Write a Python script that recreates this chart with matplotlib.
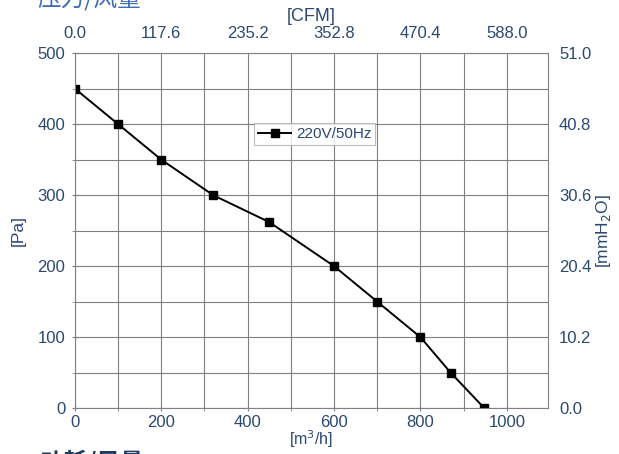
import matplotlib
matplotlib.use('Agg')
import matplotlib.pyplot as plt
import numpy as np

# fan curve, 220V/50Hz
flow = [0, 100, 200, 320, 450, 600, 700, 800, 870, 948]        # m3/h
pressure = [450, 400, 350, 300, 262, 200, 150, 100, 50, 0]     # Pa

flow_ticks = [0, 200, 400, 600, 800, 1000]
cfm_labels = ['0.0', '117.6', '235.2', '352.8', '470.4', '588.0']
pa_ticks = [0, 100, 200, 300, 400, 500]
mmh2o_labels = ['0.0', '10.2', '20.4', '30.6', '40.8', '51.0']

TXT = '#2c4770'
GRID = '#808080'

plt.rcParams['font.family'] = ['Liberation Sans', 'DejaVu Sans']

fig = plt.figure(figsize=(6.19, 4.54), dpi=100)
ax = fig.add_axes([0.121, 0.101, 0.764, 0.782])

ax.plot(flow, pressure, color='k', lw=1.4, marker='s', ms=6,
        label='220V/50Hz')

ax.set_xlim(0, 1095)
ax.set_ylim(0, 500)
ax.set_xticks(flow_ticks)
ax.set_xticks(np.arange(0, 1095, 100), minor=True)
ax.set_yticks(pa_ticks)
ax.set_yticks(np.arange(0, 501, 50), minor=True)
ax.grid(True, which='both', color=GRID, lw=0.8)
ax.set_axisbelow(True)
for s in ax.spines.values():
    s.set_color(GRID)
ax.tick_params(which='both', colors=GRID, labelcolor=TXT, labelsize=12,
               length=4, direction='inout')
ax.tick_params(axis='x', pad=3)
ax.tick_params(axis='y', pad=5)
for lab in ax.get_yticklabels():
    lab.set_verticalalignment('center_baseline')

# top axis: CFM
ax_top = ax.twiny()
ax_top.set_xlim(ax.get_xlim())
ax_top.set_xticks(flow_ticks)
ax_top.set_xticklabels(cfm_labels)
ax_top.tick_params(colors=GRID, labelcolor=TXT, labelsize=12, length=0, pad=9)
for s in ax_top.spines.values():
    s.set_visible(False)

# right axis: mmH2O
ax_r = ax.twinx()
ax_r.set_ylim(ax.get_ylim())
ax_r.set_yticks(pa_ticks)
ax_r.set_yticklabels(mmh2o_labels)
ax_r.tick_params(colors=GRID, labelcolor=TXT, labelsize=12, length=0, pad=8)
for s in ax_r.spines.values():
    s.set_visible(False)

ax.set_xlabel('[m$^3$/h]', color=TXT, fontsize=11.5, labelpad=-1)
ax.set_ylabel('[Pa]', color=TXT, fontsize=12.5, labelpad=8)
ax_top.set_xlabel('[CFM]', color=TXT, fontsize=13, labelpad=3)
ax_r.set_ylabel('[mmH$_2$O]', color=TXT, fontsize=12.5, rotation=90,
                labelpad=2)

leg = ax.legend(loc='center', bbox_to_anchor=(555 / 1095, 386 / 500),
                fontsize=11, frameon=True, fancybox=False, handlelength=2.2,
                handletextpad=0.3, borderpad=0.25, borderaxespad=0)
leg.get_frame().set_edgecolor('#aaaaaa')
leg.get_frame().set_linewidth(0.8)
for t in leg.get_texts():
    t.set_color(TXT)

# headings cut by the image edge
cjk = ['Noto Sans CJK SC', 'DejaVu Sans']
fig.text(37 / 619, 1 + 1 / 454, '压力/风量', family=cjk, fontsize=17,
         color='#3d6cb8', ha='left', va='center')
fig.text(40 / 619, -8 / 454, '功耗/风量', family=cjk, fontsize=17,
         fontweight='bold', color='#1d3a66', ha='left', va='center')

fig.savefig('out.png', dpi=100)
